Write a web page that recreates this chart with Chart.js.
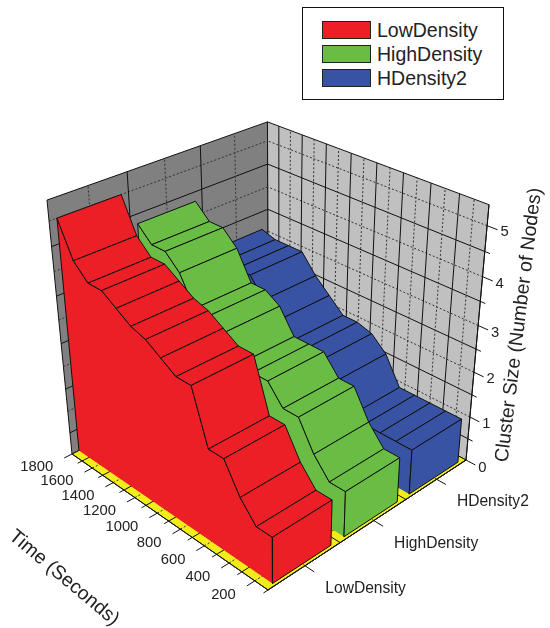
<!DOCTYPE html>
<html>
<head>
<meta charset="utf-8">
<title>Cluster size over time</title>
<script src="https://cdn.jsdelivr.net/npm/chart.js@4"></script>
<style>
  body { margin: 0; background: #fff; font-family: "Liberation Sans", Arial, sans-serif; }
  #wrap { position: relative; width: 550px; height: 628px; }
  #legend { position: absolute; left: 302px; top: 7px; width: 200px; height: 91px; border: 1px solid #111; background: #fff; }
  .row { position: absolute; left: 19px; height: 18px; }
  .swatch { position: absolute; left: 0; top: 0; width: 47px; height: 16px; border: 1px solid #222; }
  .name { position: absolute; left: 55px; top: -3px; font-size: 19.5px; line-height: 24px; color: #222; white-space: nowrap; }
</style>
</head>
<body>
<div id="wrap">
  <canvas id="chart" width="550" height="628"></canvas>
  <div id="legend"></div>
</div>
<script>
// data
const categories = ['LowDensity', 'HighDensity', 'HDensity2'];
const colors = ['#ED1F26', '#69BD45', '#3953A4'];
const times = [120, 240, 360, 480, 600, 720, 840, 960, 1080, 1200, 1320, 1440, 1560, 1680, 1800];
const lowDensity = [1, 1, 1.4, 2, 2, 3.1, 3.1, 3.3, 3.5, 3.6, 3.8, 4, 4, 4.3, 5];
const highDensity = [1, 1, 1.4, 2, 2, 2.4, 2.4, 2.4, 2.9, 3.1, 3.1, 3.7, 4, 4, 4.3];
const hDensity2 = [1, 1, 1, 1, 1, 1.6, 1.9, 2, 2, 2.3, 2.6, 3, 3, 3, 3.1];
const timeTicks = [200, 400, 600, 800, 1000, 1200, 1400, 1600, 1800];
const timeMinorTicks = [100, 300, 500, 700, 900, 1100, 1300, 1500, 1700];
const sizeTicks = [0, 1, 2, 3, 4, 5];
const sizeMinorTicks = [0.5, 1.5, 2.5, 3.5, 4.5];
const categoryCenters = [1 / 6, 1 / 2, 5 / 6];
const categoryEdges = [1 / 3, 2 / 3];

const timeMin = 100;
const timeMax = 1800;
const sizeMax = 5.4;
const ribbonHalf = 0.135;

// 3D box corners on the page and the vanishing of the upright edges
const front = [268, 590];
const left = [72, 454];
const right = [466, 460];
const upVanish = [278, 2546];
const qTime = 0.1549;
const qCat = 0.1463;
const qSize = -0.125;

function project(t, v, size) {
    const u = (t - timeMin) / (timeMax - timeMin);
    const w = size / sizeMax;
    const d = 1 + qTime * u + qCat * v + qSize * w;
    const axis = i => (front[i]
        + u * (left[i] * (1 + qTime) - front[i])
        + v * (right[i] * (1 + qCat) - front[i])
        + w * qSize * upVanish[i]) / d;
    return { x: axis(0), y: axis(1) };
}

const datasets = [];

function addShape(label, points, fillColor, width) {
    datasets.push({
        label: label,
        data: points.map(p => project(p[0], p[1], p[2])),
        showLine: true,
        fill: 'shape',
        backgroundColor: fillColor,
        borderColor: '#111',
        borderWidth: width === undefined ? 1 : width,
        pointRadius: 0
    });
}

function addPath(label, points, dashed) {
    datasets.push({
        label: label,
        data: points.map(p => project(p[0], p[1], p[2])),
        showLine: true,
        fill: false,
        borderColor: dashed ? '#333' : '#111',
        borderWidth: 1,
        borderDash: dashed ? [2, 2] : [],
        pointRadius: 0
    });
}

function addLine(label, a, b, dashed) {
    addPath(label, [a, b], dashed);
}

// walls and floor
addShape('left wall', [[timeMax, 0, 0], [timeMax, 1, 0], [timeMax, 1, sizeMax], [timeMax, 0, sizeMax], [timeMax, 0, 0]], '#808080');
addShape('right wall', [[timeMin, 1, 0], [timeMax, 1, 0], [timeMax, 1, sizeMax], [timeMin, 1, sizeMax], [timeMin, 1, 0]], '#C0C0C0');
addShape('floor', [[timeMin, 0, 0], [timeMax, 0, 0], [timeMax, 1, 0], [timeMin, 1, 0], [timeMin, 0, 0]], '#F2EC19');

// grid, solid on the minor steps and dashed on the labelled ones
sizeTicks.concat(sizeMinorTicks).forEach(s => {
    const dashed = sizeTicks.includes(s);
    if (s === 0) return;
    addLine('grid size', [timeMax, 0, s], [timeMax, 1, s], dashed);
    addLine('grid size', [timeMin, 1, s], [timeMax, 1, s], dashed);
});
timeTicks.concat(timeMinorTicks).forEach(t => {
    const dashed = timeTicks.includes(t);
    if (t !== timeMax && t !== timeMin) addLine('grid time', [t, 1, 0], [t, 1, sizeMax], dashed);
    addLine('grid floor', [t, 0, 0], [t, 1, 0], dashed);
});
categoryCenters.concat(categoryEdges).forEach(v => {
    const dashed = categoryCenters.includes(v);
    addLine('grid cat', [timeMax, v, 0], [timeMax, v, sizeMax], dashed);
    addLine('grid floor', [timeMin, v, 0], [timeMax, v, 0], dashed);
});

// axis ticks
timeTicks.concat(timeMinorTicks).forEach(t => {
    addLine('tick time', [t, 0, 0], [t, timeTicks.includes(t) ? -0.035 : -0.02, 0], false);
});
categoryCenters.forEach(v => addLine('tick cat', [timeMin, v, 0], [timeMin - 70, v, 0], false));
sizeTicks.concat(sizeMinorTicks).forEach(s => {
    addLine('tick size', [timeMin, 1, s], [timeMin - (sizeTicks.includes(s) ? 70 : 35), 1, s], false);
});
addLine('axis time', [timeMin, 0, 0], [timeMax, 0, 0], false);
addLine('axis cat', [timeMin, 0, 0], [timeMin, 1, 0], false);
addLine('axis size', [timeMin, 1, 0], [timeMin, 1, sizeMax], false);

// one ribbon: side face, then top strips far to near, then the near end
function addRibbon(name, values, center, color) {
    const v0 = center - ribbonHalf;
    const v1 = center + ribbonHalf;
    const last = times.length - 1;
    const outline = [[times[last], v0, 0]];
    for (let i = last; i >= 0; i--) outline.push([times[i], v0, values[i]]);
    outline.push([times[0], v0, 0]);
    // the base of the side has no stroke in the picture
    addShape(name + ' side', outline.concat([[times[last], v0, 0]]), color, 0);
    addPath(name + ' side edge', outline, false);
    for (let i = last; i > 0; i--) {
        addShape(name + ' top', [
            [times[i], v0, values[i]], [times[i], v1, values[i]],
            [times[i - 1], v1, values[i - 1]], [times[i - 1], v0, values[i - 1]],
            [times[i], v0, values[i]]
        ], color);
    }
    addShape(name + ' end', [
        [times[0], v0, 0], [times[0], v1, 0], [times[0], v1, values[0]],
        [times[0], v0, values[0]], [times[0], v0, 0]
    ], color);
}

addRibbon(categories[2], hDensity2, categoryCenters[2], colors[2]);
addRibbon(categories[1], highDensity, categoryCenters[1], colors[1]);
addRibbon(categories[0], lowDensity, categoryCenters[0], colors[0]);

// the library draws high order first, keep the list order as painting order
datasets.forEach((d, i) => { d.order = datasets.length - i; });

// tick labels and axis titles
const axisText = {
    id: 'axisText',
    afterDraw(chart) {
        const ctx = chart.ctx;
        const sx = chart.scales.x;
        const sy = chart.scales.y;
        const at = (t, v, s) => {
            const p = project(t, v, s);
            return [sx.getPixelForValue(p.x), sy.getPixelForValue(p.y)];
        };
        ctx.save();
        ctx.fillStyle = '#222';
        ctx.textBaseline = 'middle';
        ctx.font = '14.8px "Liberation Sans"';

        ctx.textAlign = 'right';
        timeTicks.forEach(t => {
            const p = at(t, -0.035, 0);
            ctx.fillText(String(t), p[0] - 11, p[1] + 9);
        });
        ctx.textAlign = 'center';
        sizeTicks.forEach(s => {
            const p = at(timeMin - 70, 1, s);
            ctx.fillText(String(s), p[0] + 7, p[1] + 2.5);
        });
        ctx.textAlign = 'left';
        ctx.font = '15.6px "Liberation Sans"';
        categories.forEach((c, i) => {
            const p = at(timeMin - 70, categoryCenters[i], 0);
            ctx.fillText(c, p[0] + 11, p[1] + 17);
        });

        ctx.textAlign = 'center';
        ctx.font = '19.5px "Liberation Sans"';
        ctx.save();
        ctx.translate(64, 578);
        ctx.rotate(40 * Math.PI / 180);
        ctx.fillText('Time (Seconds)', 0, 0);
        ctx.restore();
        ctx.save();
        ctx.translate(519, 325);
        ctx.rotate(-83 * Math.PI / 180);
        ctx.fillText('Cluster Size (Number of Nodes)', 0, 0);
        ctx.restore();
        ctx.restore();
    }
};

const chart = new Chart(document.getElementById('chart').getContext('2d'), {
    type: 'scatter',
    data: { datasets: datasets },
    options: {
        responsive: false,
        animation: false,
        events: [],
        layout: { padding: 0 },
        scales: {
            x: { type: 'linear', display: false, min: 0, max: 550 },
            y: { type: 'linear', display: false, min: 0, max: 628, reverse: true }
        },
        plugins: {
            legend: { display: false },
            tooltip: { enabled: false }
        }
    },
    plugins: [axisText]
});

// legend box
const legendBox = document.getElementById('legend');
categories.forEach((c, i) => {
    const row = document.createElement('div');
    row.className = 'row';
    row.style.top = (13 + i * 24) + 'px';
    const swatch = document.createElement('div');
    swatch.className = 'swatch';
    swatch.style.background = colors[i];
    const name = document.createElement('div');
    name.className = 'name';
    name.innerText = c;
    row.appendChild(swatch);
    row.appendChild(name);
    legendBox.appendChild(row);
});
</script>
</body>
</html>
